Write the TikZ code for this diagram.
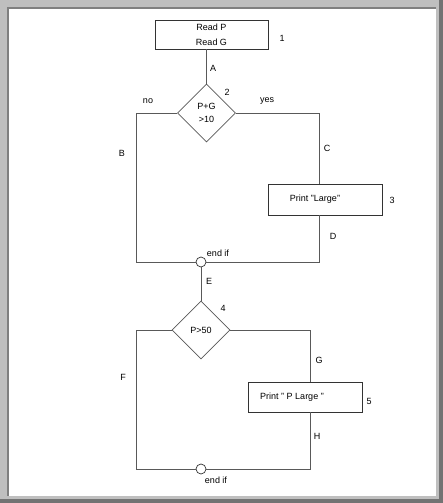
\documentclass[tikz,border=0pt]{standalone}
\usepackage{fontspec}
\setmainfont{Liberation Sans}
\usetikzlibrary{shapes.geometric}

\begin{document}
\begin{tikzpicture}[x=1pt,y=-1pt,
  font=\fontsize{9}{11}\selectfont,
  line/.style={draw=black!65,line width=0.7pt},
  procbox/.style={draw=black!80,line width=0.7pt,inner sep=0pt},
  decision/.style={diamond,draw=black!65,line width=0.7pt,inner sep=0pt,
    minimum width=58pt,minimum height=58pt,align=center},
  joint/.style={circle,draw=black!80,line width=0.7pt,fill=white,
    minimum size=10pt,inner sep=0pt}]

% Rahmen
\fill[black!25] (0,0) rectangle (443,503);
\fill[black!55] (439,0) rectangle (443,503);
\fill[black!55] (0,499) rectangle (443,503);
\fill[black!50] (7,7) rectangle (436,496);
\fill[white] (9,9) rectangle (436,496);

% Einlesen
\node[procbox,minimum width=113pt,minimum height=29pt,align=center]
  (read) at (211.5,34.5) {Read P\\[4pt]Read G};
\node (n1) at (282,38) {1};
\node (lA) at (213,68) {A};

% erste Verzweigung
\node[decision] (dec1) at (206.5,113) {P+G\\[2pt]>10};
\node (n2) at (227,92) {2};
\node (lno) at (148,101) {no};
\node (lyes) at (267,101) {yes};
\node (lB) at (122,153) {B};
\node (lC) at (327,148) {C};

\coordinate (noTop) at (136,113);
\coordinate (noBot) at (136,262);
\coordinate (yesTop) at (319,113);
\coordinate (yesBot) at (319,262);

% Ausgabe "Large"
\node[procbox,minimum width=114pt,minimum height=31pt] (large) at (325,199.5) {};
\node (tlarge) at (315,199) {Print "Large"};
\node (n3) at (392,200) {3};
\node (lD) at (333,236) {D};

% end if 1
\node[joint] (endif1) at (201,262) {};
\node (tend1) at (218,253) {end if};
\node (lE) at (209,281) {E};

% zweite Verzweigung
\node[decision] (dec2) at (201,330) {P>50};
\node (n4) at (223,308) {4};
\node (lF) at (123,377) {F};
\node (lG) at (319,360) {G};

\coordinate (leftTop) at (136,330);
\coordinate (leftBot) at (136,469);
\coordinate (rightTop) at (310,330);
\coordinate (rightBot) at (310,469);

% Ausgabe "P Large"
\node[procbox,minimum width=114pt,minimum height=30pt] (plarge) at (305,397) {};
\node (tplarge) at (292,397) {Print " P Large "};
\node (n5) at (369,401) {5};
\node (lH) at (317,436) {H};

% end if 2
\node[joint] (endif2) at (201,469) {};
\node (tend2) at (216,480) {end if};

% Verbindungen
\draw[line] (read.south -| dec1.north) -- (dec1.north);
\draw[line] (dec1.west) -- (noTop) -- (noBot) -- (endif1.west);
\draw[line] (dec1.east) -- (yesTop) -- (large.north -| yesTop);
\draw[line] (large.south -| yesTop) -- (yesBot) -- (endif1.east);
\draw[line] (endif1.south) -- (dec2.north);
\draw[line] (dec2.west) -- (leftTop) -- (leftBot) -- (endif2.west);
\draw[line] (dec2.east) -- (rightTop) -- (plarge.north -| rightTop);
\draw[line] (plarge.south -| rightTop) -- (rightBot) -- (endif2.east);

\end{tikzpicture}
\end{document}
